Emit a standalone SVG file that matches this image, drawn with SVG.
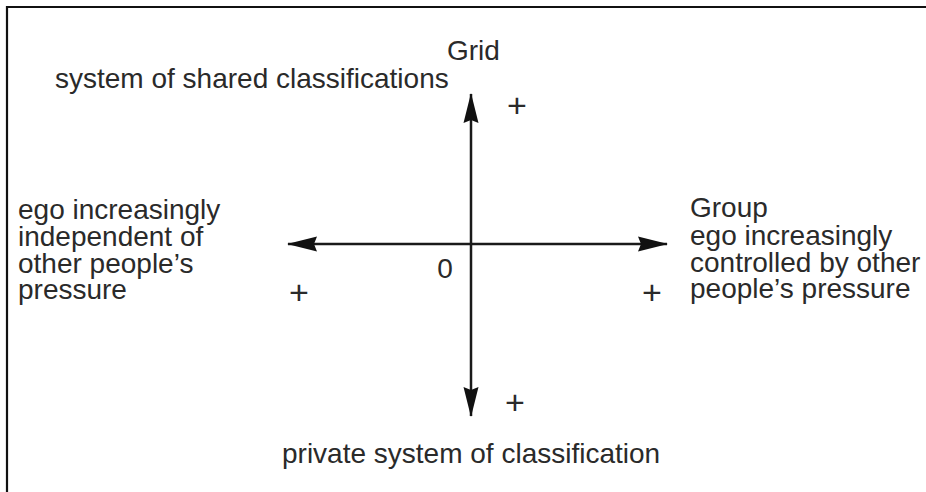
<svg xmlns="http://www.w3.org/2000/svg" width="926" height="492" viewBox="0 0 926 492">
<style>
text{font-family:"Liberation Sans",Arial,sans-serif;font-size:28px;fill:#2a2a2a}
.sign{font-size:34px}
.ax{stroke:#1a1a1a;stroke-width:2.5;fill:none}
.frame{stroke:#111;stroke-width:2.2;fill:none}
</style>
<defs>
<marker id="ah" markerUnits="userSpaceOnUse" markerWidth="30" markerHeight="16" refX="29" refY="7.5" orient="auto-start-reverse" viewBox="0 0 30 15">
<path d="M0,0 L30,7.5 L0,15 L3,7.5 Z" fill="#111"/>
</marker>
</defs>
<rect width="926" height="492" fill="#fff"/>
<path class="frame" d="M7,492 L7,7 L926,7"/>
<g id="connectors">
<line class="ax" x1="288" y1="244" x2="667" y2="244" marker-start="url(#ah)" marker-end="url(#ah)"/>
<line class="ax" x1="471" y1="94" x2="471" y2="416" marker-start="url(#ah)" marker-end="url(#ah)"/>
</g>
<g id="grid-label">
<text x="447" y="60">Grid</text>
<text x="55" y="88">system of shared classifications</text>
</g>
<g id="bottom-label">
<text x="282" y="463">private system of classification</text>
</g>
<g id="left-label">
<text x="18" y="219">ego increasingly</text>
<text x="18" y="246">independent of</text>
<text x="18" y="273">other people’s</text>
<text x="18" y="299">pressure</text>
</g>
<g id="right-label">
<text x="690" y="217">Group</text>
<text x="690" y="245">ego increasingly</text>
<text x="690" y="272">controlled by other</text>
<text x="690" y="298">people’s pressure</text>
</g>
<g id="origin">
<text x="445" y="278" text-anchor="middle">0</text>
</g>
<g id="signs" text-anchor="middle">
<text class="sign" x="517" y="117">+</text>
<text class="sign" x="515" y="414">+</text>
<text class="sign" x="299" y="304">+</text>
<text class="sign" x="652" y="304">+</text>
</g>
</svg>
